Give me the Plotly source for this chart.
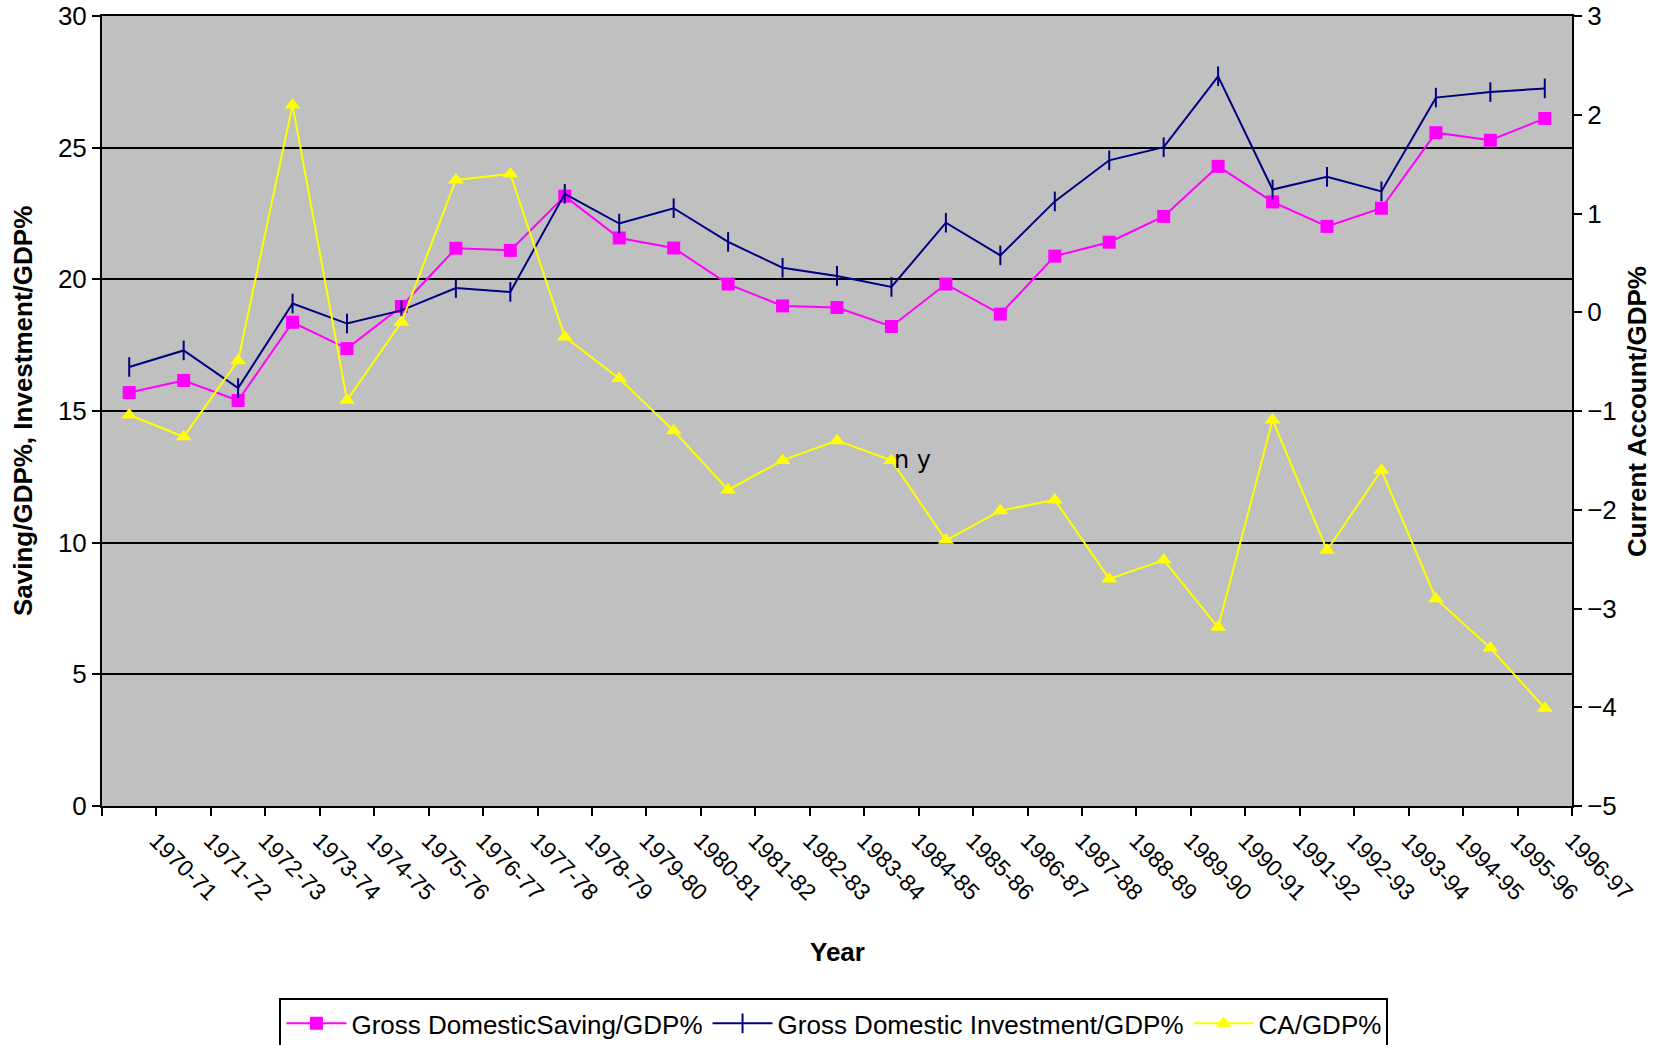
import plotly.graph_objects as go

years = ["1970-71", "1971-72", "1972-73", "1973-74", "1974-75", "1975-76", "1976-77",
         "1977-78", "1978-79", "1979-80", "1980-81", "1981-82", "1982-83", "1983-84",
         "1984-85", "1985-86", "1986-87", "1987-88", "1988-89", "1989-90", "1990-91",
         "1991-92", "1992-93", "1993-94", "1994-95", "1995-96", "1996-97"]

saving = [15.70, 16.16, 15.40, 18.37, 17.37, 18.97, 21.18, 21.10, 23.16, 21.57,
          21.19, 19.82, 18.99, 18.93, 18.21, 19.82, 18.68, 20.88, 21.41, 22.39,
          24.29, 22.94, 22.01, 22.70, 25.57, 25.28, 26.11]

investment = [16.67, 17.30, 15.87, 19.08, 18.32, 18.82, 19.67, 19.52, 23.25, 22.12,
              22.70, 21.42, 20.44, 20.13, 19.71, 22.15, 20.91, 22.96, 24.52, 25.02,
              27.71, 23.41, 23.89, 23.34, 26.90, 27.11, 27.25]

ca = [-1.04, -1.26, -0.49, 2.10, -0.89, -0.10, 1.34, 1.40, -0.25, -0.67,
      -1.20, -1.80, -1.50, -1.30, -1.50, -2.31, -2.01, -1.90, -2.70, -2.51,
      -3.19, -1.09, -2.41, -1.60, -2.90, -3.40, -4.01]

left_ticks = [0, 5, 10, 15, 20, 25, 30]
right_ticks = [-5, -4, -3, -2, -1, 0, 1, 2, 3]

FONT = "Liberation Sans, Arial, sans-serif"

fig = go.Figure()
fig.add_trace(go.Scatter(
    x=years, y=saving, name="Gross DomesticSaving/GDP%", mode="lines+markers",
    line=dict(color="#FF00FF", width=2),
    marker=dict(symbol="square", size=13, color="#FF00FF"),
))
fig.add_trace(go.Scatter(
    x=years, y=investment, name="Gross Domestic Investment/GDP%", mode="lines+markers",
    line=dict(color="#000080", width=2),
    marker=dict(symbol="line-ns", size=14, color="#000080",
                line=dict(color="#000080", width=2)),
))
fig.add_trace(go.Scatter(
    x=years, y=ca, name="CA/GDP%", mode="lines+markers", yaxis="y2",
    line=dict(color="#FFFF00", width=2),
    marker=dict(symbol="triangle-up", size=14, color="#FFFF00"),
))

fig.add_annotation(x=years[14], y=ca[14], xref="x", yref="y2", text="n y",
                   showarrow=False, xanchor="left", yanchor="middle", xshift=1,
                   font=dict(family="DejaVu Sans", size=24, color="black"))

fig.add_annotation(x=0.5, y=-0.1848, xref="paper", yref="paper", text="<b>Year</b>",
                   showarrow=False, xanchor="center", yanchor="middle",
                   font=dict(family=FONT, size=26, color="black"))
fig.add_annotation(x=-0.0537, y=0.5, xref="paper", yref="paper",
                   text="<b>Saving/GDP%, Investment/GDP%</b>", textangle=-90,
                   showarrow=False, xanchor="center", yanchor="middle",
                   font=dict(family=FONT, size=26, color="black"))
fig.add_annotation(x=1.0442, y=0.5, xref="paper", yref="paper",
                   text="<b>Current Account/GDP%</b>", textangle=-90,
                   showarrow=False, xanchor="center", yanchor="middle",
                   font=dict(family=FONT, size=26, color="black"))

fig.update_layout(
    width=1654, height=1045,
    margin=dict(l=102, r=82, t=16, b=239, pad=0, autoexpand=False),
    paper_bgcolor="white", plot_bgcolor="#C0C0C0",
    font=dict(family=FONT, color="black"),
    showlegend=True,
    legend=dict(orientation="h", x=0.1207, y=-0.243, xanchor="left", yanchor="top",
                bgcolor="white", bordercolor="black", borderwidth=2,
                font=dict(family=FONT, size=26, color="black"), itemwidth=60,
                traceorder="normal"),
    xaxis=dict(type="category", tickson="boundaries", ticks="outside", ticklen=8,
               tickwidth=2, tickcolor="black", tickangle=45, showgrid=False,
               showline=True, linecolor="black", linewidth=2, mirror=True,
               ticklabelshift=27, ticklabelstandoff=10, automargin=False,
               tickfont=dict(family=FONT, size=23, color="black"),
               range=[-0.5, len(years) - 0.5]),
    yaxis=dict(range=[0, 30], tickvals=left_ticks, ticks="outside", ticklen=8,
               tickwidth=2, tickcolor="black", showgrid=True, gridcolor="black",
               gridwidth=2, showline=True, linecolor="black", linewidth=2,
               zeroline=False, automargin=False,
               tickfont=dict(family=FONT, size=26, color="black")),
    yaxis2=dict(range=[-5, 3], tickvals=right_ticks, overlaying="y", side="right",
                ticks="outside", ticklen=8, tickwidth=2, tickcolor="black",
                showgrid=False, showline=True, linecolor="black", linewidth=2,
                zeroline=False, automargin=False,
                tickfont=dict(family=FONT, size=26, color="black")),
)

fig.write_html("out.html")
